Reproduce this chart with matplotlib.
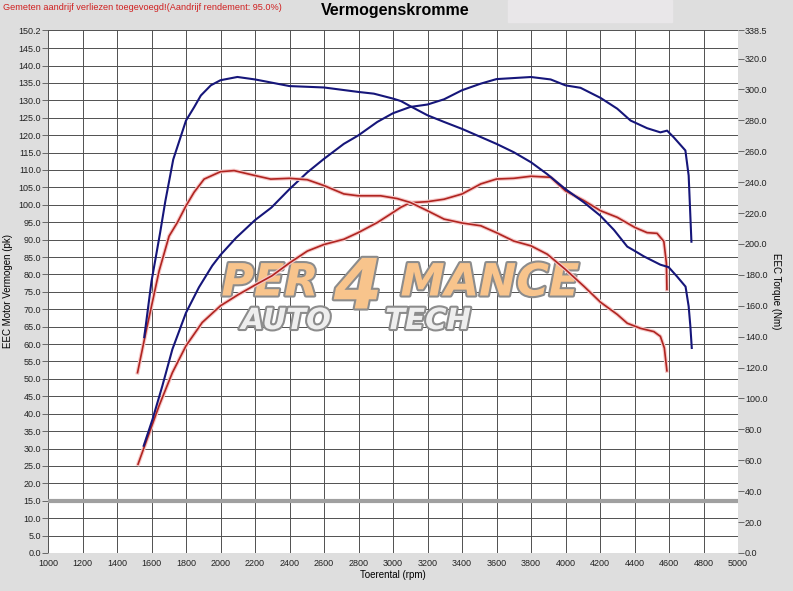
import matplotlib.pyplot as plt
import matplotlib.patheffects as pe
from matplotlib.patches import Rectangle
import numpy as np

plt.rcParams['font.family'] = ['Liberation Sans', 'DejaVu Sans']

# gemeten waarden (getuned = blauw, standaard = rood)
rpm_tq_tuned = [1558, 1600, 1650, 1680, 1726, 1800, 1847, 1886, 1944, 2000, 2098, 2200, 2252,
                2400, 2600, 2800, 2889, 3000, 3046, 3100, 3200, 3296, 3400, 3600, 3700, 3800,
                3894, 4000, 4107, 4203, 4281, 4358, 4400, 4454, 4550, 4598, 4647, 4696, 4714,
                4724, 4732]
tq_tuned = [139.7, 175.8, 207.3, 227.6, 254.7, 279.9, 288.5, 296.1, 302.7, 306.0, 308.1, 306.5,
            305.4, 302.2, 301.3, 298.4, 297.3, 294.1, 292.5, 289.2, 283.3, 279.0, 274.5, 264.8,
            259.4, 252.9, 245.2, 235.5, 226.9, 218.2, 209.1, 198.3, 195.6, 192.0, 186.6, 185.0,
            178.9, 172.4, 159.6, 146.5, 132.7]

rpm_pk_tuned = [1555, 1606, 1663, 1721, 1800, 1875, 1952, 2000, 2090, 2200, 2295, 2400, 2503,
                2600, 2715, 2798, 2909, 3000, 3100, 3200, 3296, 3400, 3509, 3600, 3800, 3914,
                4000, 4087, 4203, 4300, 4377, 4473, 4550, 4589, 4627, 4695, 4714, 4730]
pk_tuned = [30.8, 38.4, 48.0, 58.5, 69.0, 76.3, 82.5, 85.6, 90.5, 95.6, 99.2, 104.5, 109.3,
            113.2, 117.5, 119.9, 123.8, 126.3, 128.1, 128.8, 130.3, 132.9, 134.8, 136.1, 136.7,
            136.0, 134.3, 133.6, 130.7, 127.6, 124.2, 122.0, 120.8, 121.3, 119.4, 115.6, 108.4,
            89.4]

rpm_tq_stock = [1519, 1567, 1644, 1702, 1751, 1800, 1847, 1905, 2000, 2079, 2200, 2291, 2400,
                2503, 2600, 2715, 2798, 2928, 3024, 3100, 3200, 3296, 3400, 3509, 3600, 3700,
                3800, 3894, 4000, 4107, 4203, 4300, 4358, 4435, 4512, 4550, 4573, 4588]
tq_stock = [116.7, 142.7, 182.5, 205.1, 214.1, 224.7, 233.5, 242.0, 246.8, 247.5, 244.3, 242.0,
            242.5, 241.6, 237.8, 232.4, 231.2, 231.2, 229.4, 226.9, 221.5, 216.1, 213.6, 211.8,
            207.3, 201.9, 198.8, 193.4, 183.5, 172.6, 162.3, 154.4, 148.7, 145.4, 143.3, 140.2,
            132.7, 117.9]

rpm_pk_stock = [1522, 1567, 1644, 1721, 1800, 1894, 2000, 2106, 2202, 2298, 2400, 2503, 2600,
                2715, 2798, 2909, 3000, 3046, 3100, 3200, 3296, 3400, 3509, 3600, 3700, 3800,
                3914, 4000, 4107, 4203, 4300, 4402, 4473, 4531, 4570, 4585, 4588]
pk_stock = [25.5, 31.7, 42.3, 51.8, 59.5, 66.2, 71.0, 74.3, 77.0, 79.6, 83.3, 86.7, 88.6,
            90.1, 92.0, 94.9, 97.8, 99.3, 100.6, 100.9, 101.6, 103.1, 106.0, 107.4, 107.6, 108.2,
            107.9, 104.0, 101.2, 98.3, 96.4, 93.5, 92.0, 91.8, 89.5, 83.2, 75.7]

pk_max = 150.2
nm_max = 338.5
ref_line = 15.0

BG = '#dedede'
BLUE = '#16167a'
RED = '#b02420'
W, H = 793, 591

fig = plt.figure(figsize=(W / 100, H / 100), dpi=100, facecolor=BG)
fig.patches.append(Rectangle((508 / W, 1 - 22 / H), 164 / W, 22 / H,
                             transform=fig.transFigure, color='#e9e7e9', zorder=0))

ax = fig.add_axes([48 / W, 1 - 553 / H, 690 / W, 523 / H])
ax.set_facecolor('white')
ax2 = ax.twinx()

ax.set_xlim(1000, 5000)
ax.set_ylim(0, pk_max)
ax2.set_ylim(0, nm_max)

ax.set_xticks(np.arange(1000, 5001, 200))
yt = list(np.arange(0, 150, 5.0)) + [pk_max]
ax.set_yticks(yt)
ax.set_yticklabels(['%.1f' % v for v in yt])
yt2 = list(np.arange(0, 330, 20.0)) + [nm_max]
ax2.set_yticks(yt2)
ax2.set_yticklabels(['%.1f' % v for v in yt2])

ax.grid(True, color='#505050', linewidth=0.7)
ax.set_axisbelow(True)
for a in (ax, ax2):
    for s in a.spines.values():
        s.set_visible(False)
ax.tick_params(axis='x', length=0, pad=4, labelsize=6.5, colors='#222222')
ax.tick_params(axis='y', length=4, width=0.6, pad=1, labelsize=6.5,
               colors='#555555', labelcolor='#222222')
ax2.tick_params(axis='y', length=4, width=0.6, pad=1, labelsize=6.5,
                colors='#555555', labelcolor='#222222')

ax.axhline(ref_line, color='#a0a0a0', linewidth=3, zorder=2)

# watermerk (onder de lijnen)
stroke = [pe.withStroke(linewidth=3, foreground='#8c8c8c')]
for txt, x, y, fs, col in [('PER', 270, 283, 32, '#f8c48c'),
                           ('MANCE', 490, 283, 32, '#f8c48c'),
                           ('AUTO', 286, 321, 21, '#eeeeee'),
                           ('TECH', 428, 321, 21, '#eeeeee'),
                           ('4', 358, 289, 50, '#f8c48c')]:
    ax.text(x / W, 1 - y / H, txt, fontsize=fs, color=col, fontweight='bold',
            style='italic', ha='center', va='center', family='DejaVu Sans',
            transform=fig.transFigure, path_effects=stroke, zorder=3)

glow_r = [pe.withStroke(linewidth=2.8, foreground='#f6c8c8')]
ax.plot(rpm_pk_stock, pk_stock, color=RED, linewidth=1.2, path_effects=glow_r, zorder=4)
ax2.plot(rpm_tq_stock, tq_stock, color=RED, linewidth=1.2, path_effects=glow_r, zorder=4)
ax.plot(rpm_pk_tuned, pk_tuned, color=BLUE, linewidth=1.5, zorder=5)
ax2.plot(rpm_tq_tuned, tq_tuned, color=BLUE, linewidth=1.5, zorder=5)

ax.set_xlabel('Toerental (rpm)', fontsize=7, labelpad=2)
ax.set_ylabel('EEC Motor Vermogen (pk)', fontsize=7, labelpad=4)
ax2.set_ylabel('EEC Torque (Nm)', fontsize=7, rotation=270, labelpad=10)

fig.text(395 / W, 1 - 11 / H, 'Vermogenskromme', fontsize=11.5, fontweight='bold',
         ha='center', va='center')
fig.text(3 / W, 1 - 7 / H, 'Gemeten aandrijf verliezen toegevoegd!(Aandrijf rendement: 95.0%)',
         fontsize=6.6, color='#d02020', ha='left', va='center')

fig.savefig('out.png', dpi=100, facecolor=BG)
